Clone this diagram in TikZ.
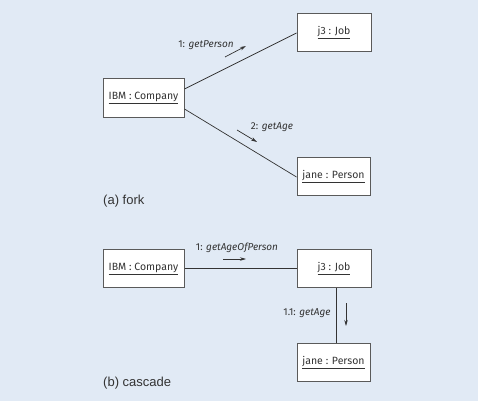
\documentclass[tikz,border=0pt]{standalone}
\usepackage{fontspec}
\setmainfont{Liberation Sans}
\newfontfamily\handfont{Fira Sans}
\usetikzlibrary{arrows.meta}
\definecolor{bgblue}{HTML}{E1EAF5}
\definecolor{boxline}{HTML}{5A5A5A}
\definecolor{txt}{HTML}{333333}
\tikzset{
  obj/.style={draw=boxline, line width=1pt, fill=white, minimum width=#1, minimum height=38pt, inner sep=0pt, font=\handfont\fontsize{10.5}{12}\selectfont, text=txt},
  obj/.default=80pt,
  link/.style={draw=txt, line width=0.7pt},
  msg/.style={draw=txt, line width=0.7pt, -{Stealth[length=6pt,width=3.5pt]}},
  lbl/.style={font=\handfont\itshape\fontsize{10}{12}\selectfont, text=txt, inner sep=1pt},
  captxt/.style={font=\fontsize{13}{15}\selectfont, text=txt, anchor=west, inner sep=0pt}
}
\newcommand{\ul}[1]{\underline{#1}}
\begin{document}
\begin{tikzpicture}[x=1pt,y=-1pt]
\fill[bgblue] (0,0) rectangle (478,401);
\useasboundingbox (0,0) rectangle (478,401);
% fork
\node[obj=81pt] (ibmA) at (143.5,98) {\ul{IBM : Company}};
\node[obj=74pt] (jobA) at (334,32.5) {\ul{j3 : Job}};
\node[obj=73pt] (janeA) at (333.5,176.5) {\ul{jane : Person}};
\draw[link] (ibmA.east |- 0,89) -- (jobA.west |- 0,33);
\draw[link] (ibmA.east |- 0,109) -- (janeA.west |- 0,177);
\coordinate (a1s) at (225,57); \coordinate (a1e) at (246,46);
\draw[msg] (a1s) -- (a1e);
\node[lbl] (l1) at (206,45) {\upshape 1: \itshape getPerson};
\coordinate (a2s) at (237,130); \coordinate (a2e) at (257,142);
\draw[msg] (a2s) -- (a2e);
\node[lbl] (l2) at (272,127) {\upshape 2: \itshape getAge};
\node[captxt] (capA) at (103,201) {(a) fork};
% cascade
\node[obj=81pt] (ibmB) at (143.5,268.5) {\ul{IBM : Company}};
\node[obj=74pt] (jobB) at (334,268.5) {\ul{j3 : Job}};
\node[obj=73pt] (janeB) at (333.5,362.5) {\ul{jane : Person}};
\draw[link] (ibmB) -- (jobB);
\draw[link] (jobB.south -| 336,0) -- (janeB.north -| 336,0);
\coordinate (b1s) at (223,259); \coordinate (b1e) at (246,259);
\draw[msg] (b1s) -- (b1e);
\node[lbl] (l3) at (237,248) {\upshape 1: \itshape getAgeOfPerson};
\coordinate (b2s) at (346,303); \coordinate (b2e) at (346,326);
\draw[msg] (b2s) -- (b2e);
\node[lbl] (l4) at (307,313) {\upshape 1.1: \itshape getAge};
\node[captxt] (capB) at (103,383) {(b) cascade};
\end{tikzpicture}
\end{document}
